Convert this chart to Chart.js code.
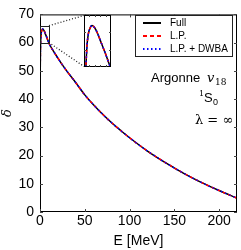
<!DOCTYPE html>
<html>
<head>
<meta charset="utf-8">
<script src="https://cdn.jsdelivr.net/npm/chart.js@4.4.0/dist/chart.umd.min.js"></script>
<style>
  html, body { margin: 0; padding: 0; background: #fff; }
  #wrap { position: relative; width: 241px; height: 250px; }
  #main { position: absolute; left: 0; top: 0; }
  #inset { position: absolute; left: 84px; top: 15px; }
</style>
</head>
<body>
<div id="wrap">
  <canvas id="main" width="241" height="250"></canvas>
  <canvas id="inset" width="27" height="52"></canvas>
</div>
<script>
// E_lab [MeV] and 1S0 phase shift [deg]
const energies = [0, 0.01, 0.05, 0.1, 0.2, 0.5, 1, 1.5, 2, 3, 4, 5, 6, 8, 10, 15, 20, 25, 30, 40, 50, 60, 70, 80, 90, 100, 120, 140, 160, 180, 200, 220];
const deltaFull = [0, 14.5, 29.7, 38.4, 47.2, 57.0, 61.9, 63.6, 64.3, 64.8, 64.5, 63.9, 63.1, 61.5, 59.8, 57.0, 54.5, 52.1, 49.9, 45.8, 41.5, 37.9, 34.6, 31.6, 28.9, 26.3, 21.6, 17.5, 13.8, 10.5, 7.6, 4.9];
const deltaLP = deltaFull.slice();
const deltaDWBA = deltaFull.slice();
const legendLabels = ['Full', 'L.P.', 'L.P. + DWBA'];
const xTicks = [0, 50, 100, 150, 200];
const yTicks = [0, 10, 20, 30, 40, 50, 60, 70];
const insetXTicks = [2, 4, 6, 8];
const insetYTicks = [62, 64];

const FONT = '"Liberation Sans", Arial, sans-serif';
const SERIF = '"DejaVu Serif", "Liberation Serif", serif';

function pts(ys) {
    return energies.map((e, i) => ({ x: e, y: ys[i] }));
}

// higher order is drawn first (underneath)
function makeDatasets(w) {
    return [
        { label: legendLabels[0], data: pts(deltaFull), order: 3, borderColor: '#000', borderWidth: w, pointRadius: 0, cubicInterpolationMode: 'monotone' },
        { label: legendLabels[1], data: pts(deltaLP), order: 2, borderColor: '#ff0000', borderWidth: w, borderDash: [3, 3], pointRadius: 0, cubicInterpolationMode: 'monotone' },
        { label: legendLabels[2], data: pts(deltaDWBA), order: 1, borderColor: '#0000ff', borderWidth: w, borderDash: [1.5, 3], borderDashOffset: 2, pointRadius: 0, cubicInterpolationMode: 'monotone' }
    ];
}

// inward ticks on all four sides + frame
function drawFrame(chart, xt, yt, len) {
    const { ctx, chartArea: a, scales } = chart;
    ctx.save();
    ctx.strokeStyle = '#000';
    ctx.lineWidth = 1;
    ctx.strokeRect(a.left + 0.5, a.top + 0.5, a.right - a.left - 1, a.bottom - a.top - 1);
    ctx.strokeStyle = '#444';
    ctx.beginPath();
    xt.forEach(v => {
        const px = Math.round(scales.x.getPixelForValue(v)) + 0.5;
        ctx.moveTo(px, a.bottom); ctx.lineTo(px, a.bottom - len);
        ctx.moveTo(px, a.top); ctx.lineTo(px, a.top + len);
    });
    yt.forEach(v => {
        const py = Math.round(scales.y.getPixelForValue(v)) + 0.5;
        ctx.moveTo(a.left, py); ctx.lineTo(a.left + len, py);
        ctx.moveTo(a.right, py); ctx.lineTo(a.right - len, py);
    });
    ctx.stroke();
    ctx.restore();
}

const mainDecor = {
    id: 'mainDecor',
    afterDraw(chart) {
        const { ctx, scales } = chart;
        drawFrame(chart, xTicks, yTicks, 3);

        // zoom box and connectors
        const x0 = scales.x.getPixelForValue(0), x1 = scales.x.getPixelForValue(10);
        const y0 = scales.y.getPixelForValue(66), y1 = scales.y.getPixelForValue(60);
        ctx.save();
        ctx.strokeStyle = '#222';
        ctx.lineWidth = 1;
        ctx.strokeRect(Math.round(x0) + 0.5, Math.round(y0) + 0.5, Math.round(x1 - x0), Math.round(y1 - y0));
        ctx.setLineDash([1, 2]);
        ctx.lineWidth = 1.3;
        ctx.beginPath();
        ctx.moveTo(x1, y0); ctx.lineTo(84, 15.5);
        ctx.moveTo(x1, y1); ctx.lineTo(84, 66.5);
        ctx.stroke();
        ctx.setLineDash([]);
        ctx.lineWidth = 1;

        // legend
        const lx = 135, ly = 15, lw = 97, lh = 41;
        ctx.fillStyle = '#fff';
        ctx.fillRect(lx, ly, lw, lh);
        ctx.strokeStyle = '#222';
        ctx.strokeRect(lx + 0.5, ly + 0.5, lw, lh);
        const rows = [23, 36, 49];
        const styles = [
            { c: '#000', d: [] },
            { c: '#ff0000', d: [4, 3] },
            { c: '#0000ff', d: [1.5, 2.5] }
        ];
        ctx.font = '10px ' + FONT;
        ctx.textBaseline = 'middle';
        ctx.textAlign = 'left';
        rows.forEach((y, i) => {
            ctx.strokeStyle = styles[i].c;
            ctx.lineWidth = 2;
            ctx.setLineDash(styles[i].d);
            ctx.beginPath();
            ctx.moveTo(143, y); ctx.lineTo(161, y);
            ctx.stroke();
            ctx.setLineDash([]);
            ctx.fillStyle = '#000';
            ctx.fillText(legendLabels[i], 170, y);
        });

        // annotations
        ctx.fillStyle = '#000';
        ctx.textBaseline = 'alphabetic';
        ctx.font = '13px ' + FONT;
        ctx.fillText('Argonne', 151, 82);
        ctx.font = 'italic 13px ' + SERIF;
        ctx.fillText('v', 207, 82);
        ctx.font = '9px ' + SERIF;
        ctx.fillText('18', 215, 85);

        ctx.font = '8px ' + SERIF;
        ctx.fillText('1', 199, 96);
        ctx.font = '13px ' + FONT;
        ctx.fillText('S', 204, 102);
        ctx.font = '9px ' + FONT;
        ctx.fillText('0', 213, 105);

        ctx.font = '13px ' + SERIF;
        ctx.fillText('\u03bb = \u221e', 195, 124);
        ctx.restore();
    }
};

new Chart(document.getElementById('main'), {
    type: 'line',
    data: { datasets: makeDatasets(1.5) },
    options: {
        responsive: false,
        animation: false,
        layout: { padding: { top: 10, right: 4, left: 0, bottom: 0 } },
        plugins: { legend: { display: false }, tooltip: { enabled: false } },
        scales: {
            x: {
                type: 'linear', min: 0, max: 220,
                afterFit: s => { s.height = 38; },
                afterBuildTicks: s => { s.ticks = xTicks.map(v => ({ value: v })); },
                grid: { display: false, drawTicks: false },
                border: { display: false },
                ticks: { color: '#000', font: { family: FONT, size: 14 }, padding: 1, maxRotation: 0 },
                title: { display: true, text: 'E [MeV]', color: '#000', font: { family: FONT, size: 14 }, padding: { top: 0, bottom: 0 } }
            },
            y: {
                type: 'linear', min: 0, max: 70,
                afterFit: s => { s.width = 40; },
                afterBuildTicks: s => { s.ticks = yTicks.map(v => ({ value: v })); },
                grid: { display: false, drawTicks: false },
                border: { display: false },
                ticks: { color: '#000', font: { family: FONT, size: 14 }, padding: 6 },
                title: { display: true, text: '\u03b4', color: '#000', font: { family: SERIF, size: 13, style: 'italic' }, padding: 0 }
            }
        }
    },
    plugins: [mainDecor]
});

const insetDecor = {
    id: 'insetDecor',
    beforeDraw(chart) {
        const { ctx, width, height } = chart;
        ctx.save();
        ctx.fillStyle = '#fff';
        ctx.fillRect(0, 0, width, height);
        ctx.restore();
    },
    afterDraw(chart) {
        drawFrame(chart, insetXTicks, insetYTicks, 2);
    }
};

new Chart(document.getElementById('inset'), {
    type: 'line',
    data: { datasets: makeDatasets(1.5) },
    options: {
        responsive: false,
        animation: false,
        layout: { padding: 0 },
        plugins: { legend: { display: false }, tooltip: { enabled: false } },
        scales: {
            x: { type: 'linear', min: 0, max: 10, display: false },
            y: { type: 'linear', min: 60, max: 66, display: false }
        }
    },
    plugins: [insetDecor]
});
</script>
</body>
</html>
